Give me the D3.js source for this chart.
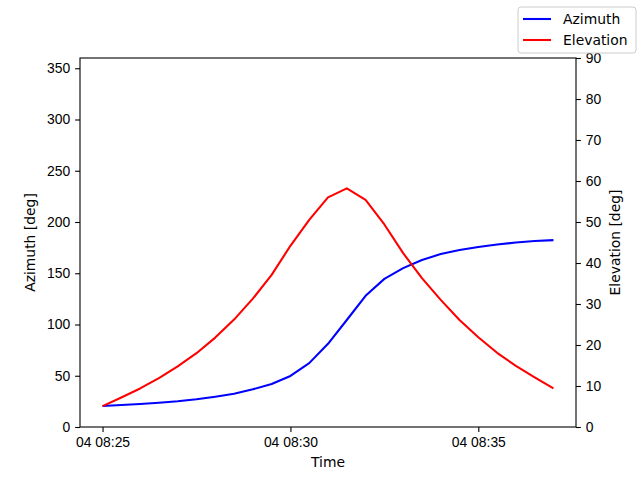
<!DOCTYPE html>
<html>
<head>
<meta charset="utf-8">
<script src="https://cdn.jsdelivr.net/npm/d3@7"></script>
<style>
  body { margin: 0; background: #fff; }
  svg { font-family: "DejaVu Sans", sans-serif; }
</style>
</head>
<body>
<div id="chart"></div>
<script>
// sample times (UTC, every 30 s)
var times = ["08:25:00","08:25:30","08:26:00","08:26:30","08:27:00","08:27:30","08:28:00","08:28:30",
  "08:29:00","08:29:30","08:30:00","08:30:30","08:31:00","08:31:30","08:32:00","08:32:30",
  "08:33:00","08:33:30","08:34:00","08:34:30","08:35:00","08:35:30","08:36:00","08:36:30","08:37:00"];

var azimuth = [20.5, 21.5, 22.4, 23.7, 25.1, 27.0, 29.6, 32.5, 36.8, 41.9, 49.8, 62.3, 81.2,
  104.4, 128.0, 144.5, 155.0, 163.0, 168.7, 172.6, 175.6, 178.0, 180.0, 181.4, 182.3];

var elevation = [5.1, 7.2, 9.4, 11.9, 14.8, 18.0, 21.8, 26.2, 31.3, 37.1, 44.2, 50.5, 56.0,
  58.2, 55.4, 49.4, 42.4, 36.3, 31.0, 26.1, 21.9, 18.1, 14.9, 12.1, 9.4];

var xTickTimes = ["08:25:00", "08:30:00", "08:35:00"];
var azTicks = [0, 50, 100, 150, 200, 250, 300, 350];
var elTicks = [0, 10, 20, 30, 40, 50, 60, 70, 80, 90];

var day = "2024-01-04 ";
var parse = d3.utcParse("%Y-%m-%d %H:%M:%S");

var W = 640, H = 480;
var margin = { top: 58, right: 64, bottom: 53, left: 80 };
var width = W - margin.left - margin.right,
    height = H - margin.top - margin.bottom;

var svg = d3.select("#chart").append("svg")
    .attr("width", W)
    .attr("height", H);

var g = svg.append("g")
    .attr("transform", "translate(" + margin.left + "," + margin.top + ")");

var t0 = parse(day + times[0]), t1 = parse(day + times[times.length - 1]);
var pad = (t1 - t0) * 0.05;

var x = d3.scaleUtc()
    .domain([new Date(+t0 - pad), new Date(+t1 + pad)])
    .range([0, width]);

var yAz = d3.scaleLinear().domain([0, 360]).range([height, 0]);
var yEl = d3.scaleLinear().domain([0, 90]).range([height, 0]);

var fontSize = "13.9px";

// axes
var xAxis = g.append("g")
    .attr("transform", "translate(0," + height + ")")
    .call(d3.axisBottom(x)
      .tickValues(xTickTimes.map(function(s) { return parse(day + s); }))
      .tickFormat(d3.utcFormat("%d %H:%M"))
      .tickSize(4.9).tickPadding(4.9));

var leftAxis = g.append("g")
    .call(d3.axisLeft(yAz).tickValues(azTicks).tickSize(4.9).tickPadding(4.9));

var rightAxis = g.append("g")
    .attr("transform", "translate(" + width + ",0)")
    .call(d3.axisRight(yEl).tickValues(elTicks).tickSize(4.9).tickPadding(4.9));

[xAxis, leftAxis, rightAxis].forEach(function(a) {
  a.selectAll("text").style("font-size", fontSize).attr("fill", "#000");
  a.selectAll("line").attr("stroke", "#000").attr("stroke-width", 1.1);
  a.select(".domain").remove();
});

// frame
g.append("rect")
    .attr("width", width)
    .attr("height", height)
    .attr("fill", "none")
    .attr("stroke", "#000")
    .attr("stroke-width", 1.1);

// lines
var azLine = d3.line()
    .x(function(d, i) { return x(parse(day + times[i])); })
    .y(function(d) { return yAz(d); });

var elLine = d3.line()
    .x(function(d, i) { return x(parse(day + times[i])); })
    .y(function(d) { return yEl(d); });

g.append("path")
    .datum(azimuth)
    .attr("d", azLine)
    .attr("fill", "none")
    .attr("stroke", "blue")
    .attr("stroke-width", 2.08)
    .attr("stroke-linejoin", "round");

g.append("path")
    .datum(elevation)
    .attr("d", elLine)
    .attr("fill", "none")
    .attr("stroke", "red")
    .attr("stroke-width", 2.08)
    .attr("stroke-linejoin", "round");

// axis labels
svg.append("text")
    .attr("x", margin.left + width / 2)
    .attr("y", 467)
    .attr("text-anchor", "middle")
    .style("font-size", fontSize)
    .text("Time");

svg.append("text")
    .attr("transform", "translate(35," + (margin.top + height / 2) + ") rotate(-90)")
    .attr("text-anchor", "middle")
    .style("font-size", fontSize)
    .text("Azimuth [deg]");

svg.append("text")
    .attr("transform", "translate(620," + (margin.top + height / 2) + ") rotate(-90)")
    .attr("text-anchor", "middle")
    .style("font-size", fontSize)
    .text("Elevation [deg]");

// legend
var legend = svg.append("g").attr("transform", "translate(518,7)");
legend.append("rect")
    .attr("width", 118)
    .attr("height", 46)
    .attr("rx", 3)
    .attr("fill", "#fff")
    .attr("fill-opacity", 0.8)
    .attr("stroke", "#ccc")
    .attr("stroke-width", 1);

var legendItems = [{ name: "Azimuth", color: "blue" }, { name: "Elevation", color: "red" }];
legendItems.forEach(function(d, i) {
  var yy = 12 + i * 21;
  legend.append("line")
      .attr("x1", 5).attr("x2", 33)
      .attr("y1", yy).attr("y2", yy)
      .attr("stroke", d.color)
      .attr("stroke-width", 2.08);
  legend.append("text")
      .attr("x", 45)
      .attr("y", yy + 5)
      .style("font-size", fontSize)
      .text(d.name);
});
</script>
</body>
</html>
